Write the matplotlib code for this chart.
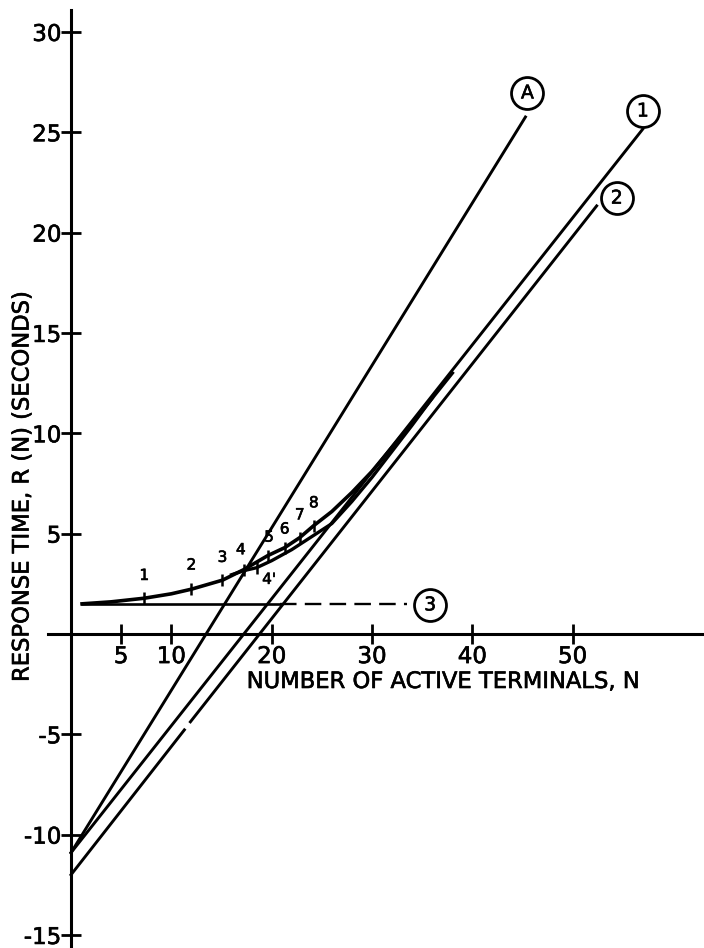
import numpy as np
import matplotlib
matplotlib.use('Agg')
import matplotlib.pyplot as plt
import matplotlib.patheffects as pe

plt.rcParams['font.family'] = ['DejaVu Sans']
plt.rcParams['axes.unicode_minus'] = False

# straight lines (N, R)
line_a_n = [0, 45.3]
line_a_r = [-10.9, 25.76]
line1_n = [0, 57.0]
line1_r = [-10.9, 25.16]
line2_n = [0, 11.3, np.nan, 11.9, 52.4]
line2_r = [-12.0, -4.78, np.nan, -4.38, 21.33]
line3_solid_n = [1.1, 20.8]
line3_dash_n = [20.8, 33.5]
line3_r = 1.5

# response time curves
upper_n = [1.1, 4, 7.3, 10, 12.0, 15.1, 17.2, 19.6, 21.3, 22.8, 24.2, 26, 28, 30, 32, 34, 36, 38]
upper_r = [1.5, 1.6, 1.78, 2.0, 2.23, 2.68, 3.2, 3.9, 4.3, 4.8, 5.4, 6.1, 7.05, 8.1, 9.3, 10.5, 11.75, 13.0]
lower_n = [16.0, 17.2, 18.5, 20, 22, 24, 26, 28, 30, 32, 34, 36]
lower_r = [2.95, 3.15, 3.3, 3.65, 4.2, 4.85, 5.5, 6.6, 7.8, 9.1, 10.4, 11.75]

# numbered points
pts_lbl = ['1', '2', '3', '4', '5', '6', '7', '8']
pts_n = [7.3, 12.0, 15.1, 17.2, 19.6, 21.3, 22.8, 24.2]
pts_r = [1.78, 2.23, 2.68, 3.2, 3.9, 4.3, 4.8, 5.4]
pt4p_n, pt4p_r = 18.5, 3.3

# circled labels
circ_lbl = ['A', '1', '2', '3']
circ_n = [45.5, 57.0, 54.4, 35.8]
circ_r = [26.96, 26.06, 21.72, 1.45]

xticks = [5, 10, 20, 30, 40, 50]
yticks = [-15, -10, -5, 0, 5, 10, 15, 20, 25, 30]
ylabels = ['-15', '-10', '-5', '', '5', '10', '15', '20', '25', '30']

heavy = [pe.withStroke(linewidth=0.45, foreground='black')]

fig = plt.figure(figsize=(7.04, 9.48), dpi=100)
ax = fig.add_axes([0, 0, 1, 1])
ax.set_xlim(-7.08, 63.1)
ax.set_ylim(-15.65, 31.59)

lw = 2.1
ax.plot(line_a_n, line_a_r, color='black', lw=lw)
ax.plot(line1_n, line1_r, color='black', lw=lw)
ax.plot(line2_n, line2_r, color='black', lw=lw)
ax.plot(line3_solid_n, [line3_r, line3_r], color='black', lw=1.9)
ax.plot(line3_dash_n, [line3_r, line3_r], color='black', lw=1.7, dashes=(7, 3.5))

ax.plot(upper_n, upper_r, color='black', lw=2.6)
ax.plot(lower_n, lower_r, color='black', lw=2.4)

ax.plot(pts_n, pts_r, ls='none', marker='|', ms=9, mew=1.8, color='black')
ax.plot([pt4p_n], [pt4p_r], ls='none', marker='|', ms=9, mew=1.8, color='black')
offs = [(0, 11), (0, 12), (0, 11), (-2, 9), (1, 8), (0, 8), (0, 11), (0, 11)]
for lbl, n, r, o in zip(pts_lbl, pts_n, pts_r, offs):
    ax.annotate(lbl, (n, r), xytext=o, textcoords='offset points',
                ha='center', va='bottom', fontsize=11, path_effects=heavy)
ax.annotate("4'", (pt4p_n, pt4p_r), xytext=(4, -3), textcoords='offset points',
            ha='left', va='top', fontsize=11, path_effects=heavy)

ax.plot(circ_n, circ_r, ls='none', marker='o', ms=23, mfc='white', mec='black', mew=2.0, zorder=4)
for lbl, n, r in zip(circ_lbl, circ_n, circ_r):
    ax.text(n, r, lbl, ha='center', va='center', fontsize=13.5, zorder=5, path_effects=heavy)

for s in ['top', 'right']:
    ax.spines[s].set_visible(False)
ax.spines['left'].set_position(('data', 0))
ax.spines['bottom'].set_position(('data', 0))
ax.spines['left'].set_bounds(-15.65, 31.1)
ax.spines['bottom'].set_bounds(-2.3, 63.1)
ax.spines['left'].set_linewidth(2.2)
ax.spines['bottom'].set_linewidth(2.2)

ax.set_xticks(xticks)
ax.set_xticklabels([str(t) for t in xticks])
ax.set_yticks(yticks)
ax.set_yticklabels(ylabels)
ax.tick_params(direction='inout', length=14, width=2, labelsize=16.5)
ax.tick_params(axis='x', pad=1)
ax.tick_params(axis='y', pad=0)
for t in ax.get_xticklabels() + ax.get_yticklabels():
    t.set_path_effects(heavy)

fig.text(444 / 704, 1 - 670 / 948, 'NUMBER OF ACTIVE TERMINALS, N',
         ha='center', va='top', fontsize=16.3, path_effects=heavy)
fig.text(22 / 704, 1 - 486 / 948, 'RESPONSE TIME, R (N) (SECONDS)',
         ha='center', va='center', rotation=90, fontsize=16.3, path_effects=heavy)

fig.savefig('out.png', dpi=100)
